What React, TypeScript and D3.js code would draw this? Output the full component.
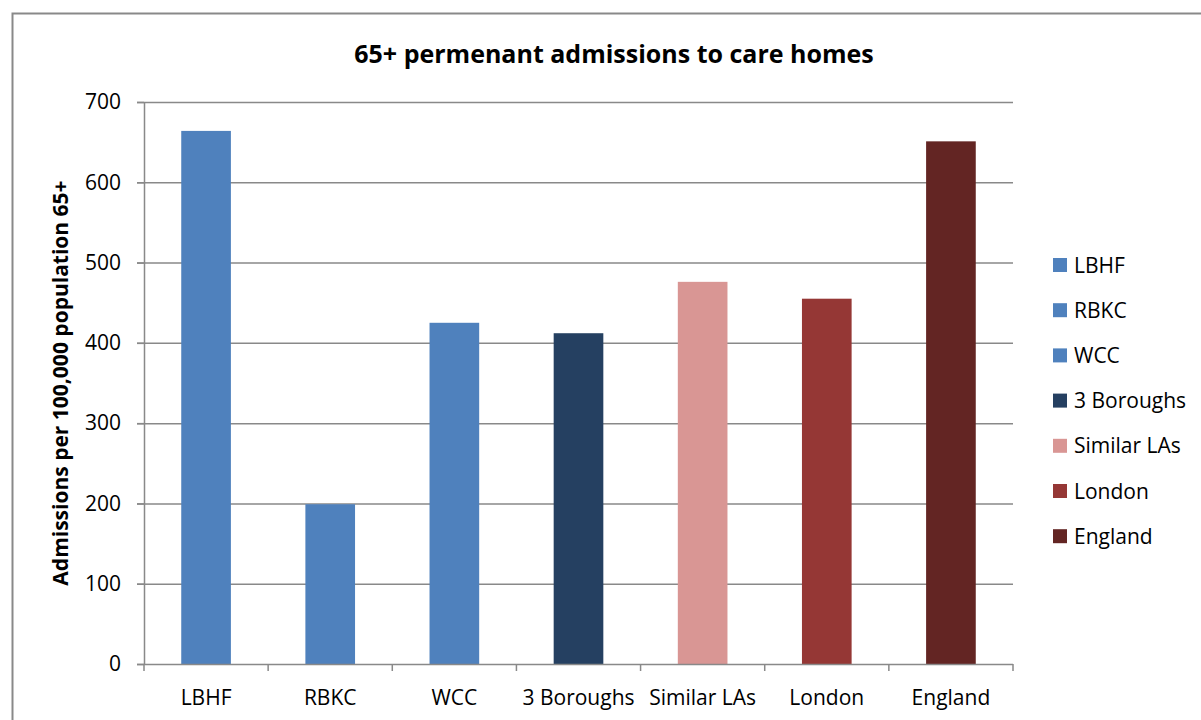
// App
import { useEffect, useRef } from 'react';
import * as d3 from 'd3';

const categories: string[] = ['LBHF', 'RBKC', 'WCC', '3 Boroughs', 'Similar LAs', 'London', 'England'];
const admissions: number[] = [664, 199, 425, 412, 476, 455, 651];
const barColors: string[] = ['#4F81BD', '#4F81BD', '#4F81BD', '#254061', '#D99694', '#953735', '#632523'];
const yTicks: number[] = [0, 100, 200, 300, 400, 500, 600, 700];

const chartTitle = '65+ permenant admissions to care homes';
const yAxisTitle = 'Admissions per 100,000 population 65+';

const font = '"Open Sans", Lato, sans-serif';

function App() {
	const ref = useRef<SVGSVGElement | null>(null);
	const width = 1201;
	const height = 720;
	const plot = { left: 144, right: 1013, top: 102, bottom: 664 };

	useEffect(() => {
		const svg = d3.select(ref.current);
		svg.selectAll('*').remove();

		// outer frame (extends beyond the picture on right and bottom)
		svg.append('rect')
			.attr('x', 12.5)
			.attr('y', 13.5)
			.attr('width', 1300)
			.attr('height', 800)
			.attr('fill', '#ffffff')
			.attr('stroke', '#898989')
			.attr('stroke-width', 2);

		const x = d3.scaleBand<string>().domain(categories).range([plot.left, plot.right]).paddingInner(0.6).paddingOuter(0.3);
		const y = d3.scaleLinear().domain([0, 700]).range([plot.bottom, plot.top]);

		// gridlines
		svg.append('g')
			.selectAll('line')
			.data(yTicks.filter((t) => t > 0))
			.enter()
			.append('line')
			.attr('x1', plot.left - 7)
			.attr('x2', plot.right)
			.attr('y1', (d) => y(d) + 0.5)
			.attr('y2', (d) => y(d) + 0.5)
			.attr('stroke', '#898989')
			.attr('stroke-width', 1.5);

		// bars
		svg.append('g')
			.selectAll('rect')
			.data(admissions)
			.enter()
			.append('rect')
			.attr('x', (_d, i) => x(categories[i]) as number)
			.attr('y', (d) => y(d))
			.attr('width', x.bandwidth())
			.attr('height', (d) => y(0) - y(d))
			.attr('fill', (_d, i) => barColors[i]);

		// y axis
		const yAxis = d3.axisLeft(y).tickValues(yTicks).tickSize(7).tickPadding(16).tickSizeOuter(0);
		const gy = svg.append('g').attr('transform', `translate(${plot.left},0)`).call(yAxis);
		gy.select('.domain').attr('stroke', '#898989').attr('stroke-width', 1.5);
		gy.selectAll('.tick line').attr('stroke', '#898989').attr('stroke-width', 1.5);
		gy.selectAll('.tick text').attr('font-family', font).attr('font-size', 21).attr('fill', '#000');

		// x axis
		const step = (plot.right - plot.left) / categories.length;
		svg.append('line')
			.attr('x1', plot.left - 7)
			.attr('x2', plot.right)
			.attr('y1', plot.bottom + 0.5)
			.attr('y2', plot.bottom + 0.5)
			.attr('stroke', '#898989')
			.attr('stroke-width', 1.5);
		svg.append('g')
			.selectAll('line')
			.data(d3.range(categories.length + 1))
			.enter()
			.append('line')
			.attr('x1', (d) => plot.left + d * step)
			.attr('x2', (d) => plot.left + d * step)
			.attr('y1', plot.bottom)
			.attr('y2', plot.bottom + 7)
			.attr('stroke', '#898989')
			.attr('stroke-width', 1.5);
		svg.append('g')
			.selectAll('text')
			.data(categories)
			.enter()
			.append('text')
			.attr('x', (d) => (x(d) as number) + x.bandwidth() / 2)
			.attr('y', 705)
			.attr('text-anchor', 'middle')
			.attr('font-family', font)
			.attr('font-size', 21)
			.text((d) => d);

		// title
		svg.append('text')
			.attr('x', 614)
			.attr('y', 63)
			.attr('text-anchor', 'middle')
			.attr('font-family', font)
			.attr('font-weight', 'bold')
			.attr('font-size', 25)
			.text(chartTitle);

		// y axis title
		svg.append('text')
			.attr('transform', `translate(68, ${(plot.top + plot.bottom) / 2}) rotate(-90)`)
			.attr('text-anchor', 'middle')
			.attr('font-family', font)
			.attr('font-weight', 'bold')
			.attr('font-size', 21)
			.text(yAxisTitle);

		// legend
		const legend = svg.append('g')
			.selectAll('g')
			.data(categories)
			.enter()
			.append('g')
			.attr('transform', (_d, i) => `translate(1053, ${258 + i * 45.2})`);
		legend.append('rect')
			.attr('width', 14)
			.attr('height', 14)
			.attr('fill', (_d, i) => barColors[i]);
		legend.append('text')
			.attr('x', 21)
			.attr('y', 14.5)
			.attr('font-family', font)
			.attr('font-size', 21)
			.text((d) => d);
	}, []);

	return <svg ref={ref} width={width} height={height} style={{ display: 'block', position: 'absolute', left: 0, top: 0 }} />;
}

export default App;
